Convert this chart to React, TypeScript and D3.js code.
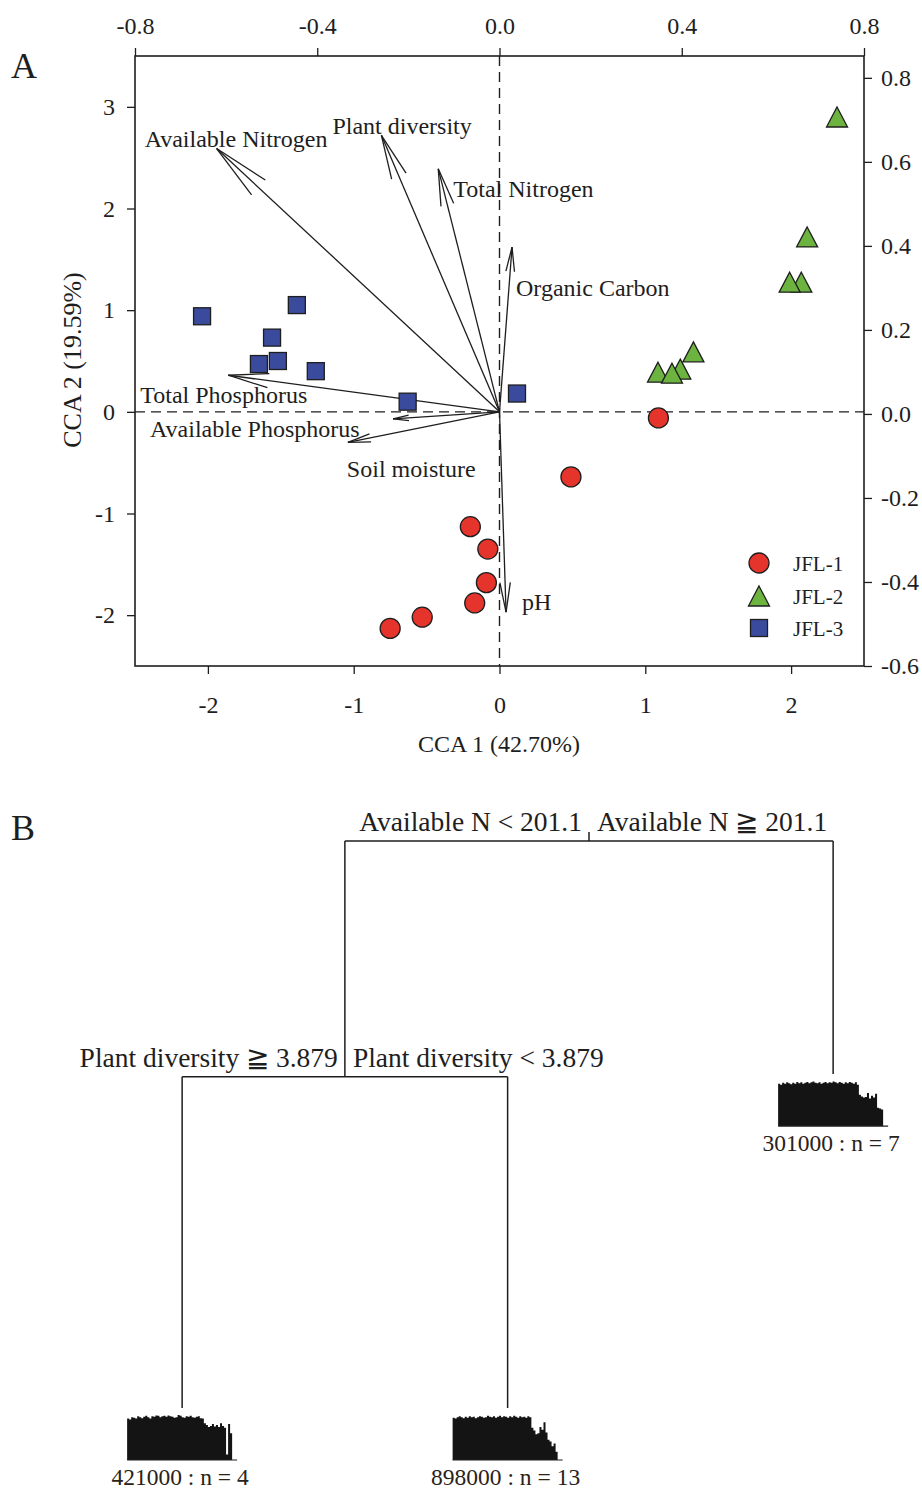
import React, { useEffect, useRef } from "react";
import * as d3 from "d3";

// ---- panel A: CCA site scores (CCA1, CCA2) ----
const jfl1 = [
  [1.09, -0.06], [0.49, -0.64], [-0.2, -1.13], [-0.08, -1.35],
  [-0.09, -1.68], [-0.17, -1.88], [-0.53, -2.02], [-0.75, -2.13],
];
const jfl2 = [
  [2.315, 2.9], [2.11, 1.72], [2.07, 1.275], [1.99, 1.275],
  [1.33, 0.59], [1.24, 0.42], [1.087, 0.39], [1.183, 0.38],
];
const jfl3 = [
  [-2.04, 0.94], [-1.39, 1.05], [-1.56, 0.73], [-1.65, 0.47],
  [-1.52, 0.5], [-1.26, 0.4], [-0.63, 0.1], [0.12, 0.18],
];

// environmental vectors (tip, in CCA1/CCA2 units)
const envNames = [
  "Available Nitrogen", "Plant diversity", "Total Nitrogen", "Organic Carbon",
  "Total Phosphorus", "Available Phosphorus", "Soil moisture", "pH",
];
const envX = [-1.94, -0.81, -0.42, 0.086, -1.86, -0.73, -1.04, 0.045];
const envY = [2.59, 2.72, 2.39, 1.62, 0.36, -0.07, -0.3, -1.97];

const bottomTicks = [-2, -1, 0, 1, 2];
const bottomTickLabels = ["-2", "-1", "0", "1", "2"];
const leftTicks = [-2, -1, 0, 1, 2, 3];
const leftTickLabels = ["-2", "-1", "0", "1", "2", "3"];
const topTicks = [-0.8, -0.4, 0, 0.4, 0.8];
const topTickLabels = ["-0.8", "-0.4", "0.0", "0.4", "0.8"];
const rightTicks = [-0.6, -0.4, -0.2, 0, 0.2, 0.4, 0.6, 0.8];
const rightTickLabels = ["-0.6", "-0.4", "-0.2", "0.0", "0.2", "0.4", "0.6", "0.8"];

const groups = ["JFL-1", "JFL-2", "JFL-3"];

// ---- panel B: regression tree ----
const treeIds = ["root", "n2", "leaf1", "leaf2", "leaf3"];
const treeParents = ["", "root", "n2", "n2", "root"];
const treeLeft = ["Available N < 201.1", "Plant diversity \u2267 3.879", "", "", ""];
const treeRight = ["Available N \u2267 201.1", "Plant diversity < 3.879", "", "", ""];
const treeLeafLabels = ["", "", "421000 : n = 4", "898000 : n = 13", "301000 : n = 7"];
const treeRelErr = [1, 0.584, 0, 0, 0.589];

// species profile bars under each leaf (relative abundance)
const leaf1Bars = [
  0.9, 0.88, 0.93, 0.92, 0.9, 0.95, 0.93, 0.91, 0.94, 0.96, 0.93, 0.9, 0.95,
  0.94, 0.97, 0.96, 0.93, 0.95, 0.96, 0.94, 0.97, 0.95, 0.94, 0.92, 0.93, 0.98,
  0.96, 0.93, 0.92, 0.95, 0.94, 0.96, 0.93, 0.92, 0.94, 0.95, 0.91, 0.9, 0.8,
  0.76, 0.72, 0.74, 0.78, 0.73, 0.76, 0.72, 0.8, 0.74, 0.7, 0.12, 0.78, 0.58,
];
const leaf2Bars = [
  0.92, 0.9, 0.93, 0.95, 0.93, 0.91, 0.94, 0.92, 0.95, 0.93, 0.94, 0.91, 0.93,
  0.95, 0.94, 0.92, 0.93, 0.96, 0.94, 0.93, 0.95, 0.92, 0.94, 0.96, 0.93, 0.95,
  0.94, 0.92, 0.95, 0.93, 0.96, 0.94, 0.92, 0.95, 0.93, 0.94, 0.92, 0.95, 0.93,
  0.7, 0.64, 0.56, 0.58, 0.72, 0.66, 0.82, 0.6, 0.44, 0.4, 0.3, 0.36, 0.18,
];
const leaf3Bars = [
  0.92, 0.9, 0.94, 0.92, 0.95, 0.93, 0.91, 0.94, 0.92, 0.96, 0.93, 0.95, 0.92,
  0.94, 0.96, 0.93, 0.95, 0.97, 0.94, 0.93, 0.95, 0.92, 0.94, 0.96, 0.93, 0.95,
  0.94, 0.97, 0.95, 0.93, 0.96, 0.94, 0.92, 0.95, 0.93, 0.96, 0.94, 0.92, 0.95,
  0.9, 0.68, 0.64, 0.62, 0.63, 0.72, 0.6, 0.66, 0.62, 0.7, 0.4, 0.38, 0.36,
];
const leafBars: Record<string, number[]> = { leaf1: leaf1Bars, leaf2: leaf2Bars, leaf3: leaf3Bars };

// label offsets from arrow tips (px)
const envLabelOffset = [
  [-72, -2], [-49, -1], [15, 28], [4, 49], [-88, 28], [-243, 18], [-1, 35], [16, -2],
];

const FONT = "'Liberation Serif', 'Times New Roman', serif";
const INK = "#1e1e1e";
const colors = ["#e5342b", "#6db33f", "#3a4a9c"];

const App = () => {
  const ref = useRef<SVGSVGElement>(null);

  useEffect(() => {
    const svg = d3.select(ref.current);
    svg.selectAll("*").remove();
    svg.attr("font-family", FONT);

    const left = 135, right = 864, top = 56, bottom = 666;
    const x = d3.scaleLinear().domain([-2.5, 2.5]).range([left, right]);
    const y = d3.scaleLinear().domain([-2.5, 3.5]).range([bottom, top]);
    const xTop = d3.scaleLinear().domain([-0.8, 0.8]).range([left, right]);
    const yRight = d3.scaleLinear().domain([-0.6, 0.852]).range([bottom, top]);

    const styleAxis = (g: any) => {
      g.select(".domain").remove();
      g.selectAll(".tick line").attr("stroke", INK).attr("stroke-width", 1.3);
      g.selectAll(".tick text")
        .attr("font-size", 24)
        .attr("fill", INK)
        .attr("font-family", FONT);
    };

    svg.append("g").attr("transform", `translate(${left},0)`)
      .call(d3.axisLeft(y).tickValues(leftTicks).tickFormat((d, i) => leftTickLabels[i]).tickSize(8).tickPadding(12))
      .call(styleAxis);
    svg.append("g").attr("transform", `translate(0,${bottom})`)
      .call(d3.axisBottom(x).tickValues(bottomTicks).tickFormat((d, i) => bottomTickLabels[i]).tickSize(8).tickPadding(22))
      .call(styleAxis);
    svg.append("g").attr("transform", `translate(0,${top})`)
      .call(d3.axisTop(xTop).tickValues(topTicks).tickFormat((d, i) => topTickLabels[i]).tickSize(8).tickPadding(14))
      .call(styleAxis);
    svg.append("g").attr("transform", `translate(${right},0)`)
      .call(d3.axisRight(yRight).tickValues(rightTicks).tickFormat((d, i) => rightTickLabels[i]).tickSize(8).tickPadding(9))
      .call(styleAxis);

    // frame
    svg.append("rect")
      .attr("x", left).attr("y", top)
      .attr("width", right - left).attr("height", bottom - top)
      .attr("fill", "none").attr("stroke", INK).attr("stroke-width", 1.6);

    // zero lines
    svg.append("line")
      .attr("x1", left).attr("x2", right).attr("y1", y(0)).attr("y2", y(0))
      .attr("stroke", INK).attr("stroke-width", 1.4).attr("stroke-dasharray", "10,6");
    svg.append("line")
      .attr("x1", x(0)).attr("x2", x(0)).attr("y1", top).attr("y2", bottom)
      .attr("stroke", INK).attr("stroke-width", 1.4).attr("stroke-dasharray", "10,6");

    // arrows
    const ox = x(0), oy = y(0);
    envNames.forEach((name, i) => {
      const tx = x(envX[i]), ty = y(envY[i]);
      const len = Math.hypot(tx - ox, ty - oy);
      const ang = Math.atan2(oy - ty, ox - tx);
      const hl = len * 0.15, ha = (10 * Math.PI) / 180;
      const g = svg.append("g").attr("stroke", INK).attr("stroke-width", 1.3).attr("fill", "none");
      g.append("line").attr("x1", ox).attr("y1", oy).attr("x2", tx).attr("y2", ty);
      [-1, 1].forEach((s) => {
        g.append("line")
          .attr("x1", tx).attr("y1", ty)
          .attr("x2", tx + hl * Math.cos(ang + s * ha))
          .attr("y2", ty + hl * Math.sin(ang + s * ha));
      });
      svg.append("text")
        .attr("x", tx + envLabelOffset[i][0])
        .attr("y", ty + envLabelOffset[i][1])
        .attr("font-size", 24)
        .attr("fill", INK)
        .text(name);
    });

    // points
    const tri = "M0,-10L10.5,10L-10.5,10Z";
    svg.append("g").selectAll("path").data(jfl2).enter().append("path")
      .attr("d", tri)
      .attr("transform", (d) => `translate(${x(d[0])},${y(d[1])})`)
      .attr("fill", colors[1]).attr("stroke", INK).attr("stroke-width", 1.3);
    svg.append("g").selectAll("rect").data(jfl3).enter().append("rect")
      .attr("x", (d) => x(d[0]) - 8.5).attr("y", (d) => y(d[1]) - 8.5)
      .attr("width", 17).attr("height", 17)
      .attr("fill", colors[2]).attr("stroke", INK).attr("stroke-width", 1.3);
    svg.append("g").selectAll("circle").data(jfl1).enter().append("circle")
      .attr("cx", (d) => x(d[0])).attr("cy", (d) => y(d[1])).attr("r", 10)
      .attr("fill", colors[0]).attr("stroke", INK).attr("stroke-width", 1.3);

    // legend
    const legY = [563, 596, 628];
    const lg = svg.append("g");
    lg.append("circle").attr("cx", 759).attr("cy", legY[0]).attr("r", 10)
      .attr("fill", colors[0]).attr("stroke", INK).attr("stroke-width", 1.3);
    lg.append("path").attr("d", tri).attr("transform", `translate(759,${legY[1]})`)
      .attr("fill", colors[1]).attr("stroke", INK).attr("stroke-width", 1.3);
    lg.append("rect").attr("x", 750.5).attr("y", legY[2] - 8.5).attr("width", 17).attr("height", 17)
      .attr("fill", colors[2]).attr("stroke", INK).attr("stroke-width", 1.3);
    groups.forEach((g, i) => {
      lg.append("text").attr("x", 793).attr("y", legY[i] + 8)
        .attr("font-size", 21).attr("fill", INK).text(g);
    });

    // axis titles and panel letters
    svg.append("text").attr("x", 499).attr("y", 752).attr("text-anchor", "middle")
      .attr("font-size", 24).attr("fill", INK).text("CCA 1 (42.70%)");
    svg.append("text").attr("transform", "translate(81,360) rotate(-90)")
      .attr("text-anchor", "middle").attr("font-size", 26).attr("fill", INK)
      .text("CCA 2 (19.59%)");
    svg.append("text").attr("x", 11).attr("y", 78).attr("font-size", 36).attr("fill", INK).text("A");
    svg.append("text").attr("x", 11).attr("y", 840).attr("font-size", 36).attr("fill", INK).text("B");

    // ---- panel B ----
    const table = treeIds.map((id, i) => ({
      id, parent: treeParents[i], left: treeLeft[i], right: treeRight[i],
      leaf: treeLeafLabels[i], relErr: treeRelErr[i],
    }));
    const root = d3.stratify<any>()
      .id((d) => d.id)
      .parentId((d) => d.parent || null)(table);
    // equal leaf spacing, parent centred over its children
    d3.cluster<any>().nodeSize([325.5, 1]).separation(() => 1)(root);
    const rootX = 589;
    const yTree = d3.scaleLinear().domain([1, 0]).range([841, 1408]);
    const tg = svg.append("g").attr("stroke", INK).attr("stroke-width", 1.5).attr("fill", "none");
    const px = (n: any) => rootX + n.x - (root as any).x;

    root.descendants().forEach((n: any) => {
      const nx = px(n), ny = yTree(n.data.relErr);
      if (n.children) {
        const cx = n.children.map((c: any) => px(c));
        tg.append("line").attr("x1", d3.min(cx)).attr("x2", d3.max(cx)).attr("y1", ny).attr("y2", ny);
        n.children.forEach((c: any) => {
          tg.append("line").attr("x1", px(c)).attr("x2", px(c))
            .attr("y1", ny).attr("y2", yTree(c.data.relErr));
        });
        if (!n.parent) {
          tg.append("line").attr("x1", nx).attr("x2", nx).attr("y1", ny - 9).attr("y2", ny);
        }
        svg.append("text").attr("x", nx - 7).attr("y", ny - 10).attr("text-anchor", "end")
          .attr("font-size", 27.5).attr("fill", INK).text(n.data.left);
        svg.append("text").attr("x", nx + 8).attr("y", ny - 10)
          .attr("font-size", 27.5).attr("fill", INK).text(n.data.right);
      } else {
        const vals = leafBars[n.data.id];
        const base = ny + 52;
        const xb = d3.scaleLinear().domain([0, vals.length]).range([nx - 55, nx + 50]);
        const hy = d3.scaleLinear().domain([0, 1]).range([0, 46]);
        const steps = vals.concat([vals[vals.length - 1]]);
        const area = d3.area<number>()
          .x((d, i) => xb(i))
          .y0(base)
          .y1((d) => base - hy(d))
          .curve(d3.curveStepAfter);
        svg.append("path").datum(steps).attr("d", area).attr("fill", "#141414");
        svg.append("line").attr("x1", nx - 55).attr("x2", nx + 55)
          .attr("y1", base).attr("y2", base).attr("stroke", INK).attr("stroke-width", 1.2);
        svg.append("text").attr("x", nx - 2).attr("y", base + 25).attr("text-anchor", "middle")
          .attr("font-size", 23.5).attr("fill", "#2a2218").text(n.data.leaf);
      }
    });
  }, []);

  return (
    <svg
      ref={ref}
      width={922}
      height={1493}
      style={{ position: "absolute", left: 0, top: 0, background: "#fff" }}
    />
  );
};

export default App;
